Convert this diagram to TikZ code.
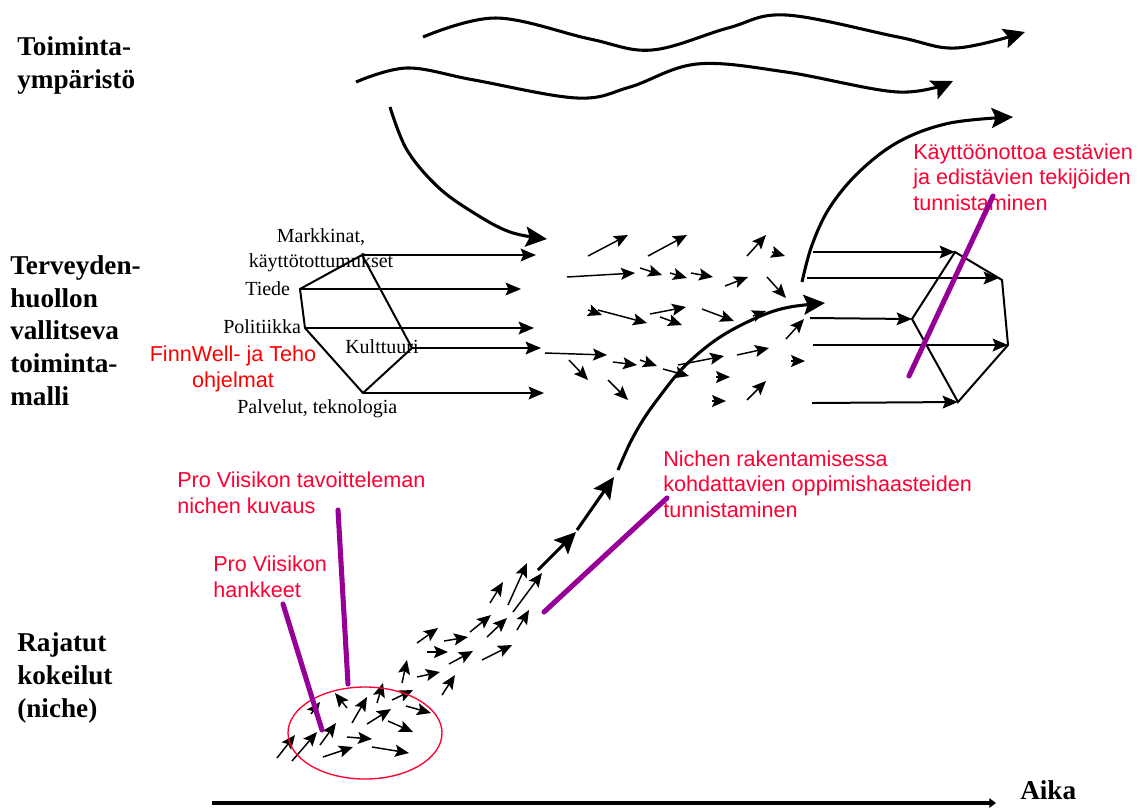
\documentclass[tikz,border=0pt]{standalone}
\usepackage{fontspec}
\setmainfont{Liberation Serif}
\newfontfamily\arialfont{Liberation Sans}
\usetikzlibrary{arrows.meta}
\definecolor{notered}{RGB}{255,0,51}
\definecolor{finnred}{RGB}{255,0,0}
\definecolor{purpleline}{RGB}{150,0,150}
\begin{document}
\begin{tikzpicture}[x=0.75pt,y=-0.75pt,
  heading/.style={font=\fontsize{20.4}{24.4}\selectfont\bfseries, align=left, anchor=base west, inner sep=0pt},
  lbl/.style={font=\fontsize{15}{18.75}\selectfont, inner sep=0pt, anchor=base west},
  rednote/.style={font=\arialfont\fontsize{16.2}{19.1}\selectfont, text=notered, align=left, anchor=base west, inner sep=0pt},
  bigarrow/.style={line width=2.3pt, -{Stealth[length=16pt,width=15pt,inset=3pt]}},
  hexarrow/.style={line width=1.5pt, -{Stealth[length=11.5pt,width=9.5pt,inset=2pt]}},
  smallarrow/.style={line width=1.1pt, -{Stealth[length=10.5pt,width=9pt,inset=2pt]}},
  hexedge/.style={line width=1.5pt, line join=miter},
  pointer/.style={purpleline, line width=3.8pt, line cap=round},
  axis/.style={line width=3.6pt, -{Triangle[length=5pt,width=7pt]}},
]
\useasboundingbox (0,0) rectangle (1141,808);

% ---------- headings (anchored at the baseline of the last line) ----------
\node[heading] (h1) at (17,88) {Toiminta-\\ympäristö};
\node[heading] (h2) at (10,405) {Terveyden-\\huollon\\vallitseva\\toiminta-\\malli};
\node[heading] (h3) at (17,717) {Rajatut\\kokeilut\\(niche)};
\node[heading] (aika) at (1020,799) {Aika};

% ---------- top waves ----------
\draw[bigarrow] plot[smooth, tension=0.6] coordinates {(423,37) (496,18) (590,39) (652,50) (728,28) (786,15) (898,37) (956,48) (1025,32)};
\draw[bigarrow] plot[smooth, tension=0.6] coordinates {(356,82) (407,68) (474,80) (577,98) (630,87) (697,64) (786,72) (898,92) (953,81)};
\draw[bigarrow] plot[smooth, tension=0.6] coordinates {(390,107) (407,150) (438,187) (474,213) (510,232) (547,239)};

% ---------- left pentagon ----------
\coordinate (Ltop) at (362,255);
\coordinate (Ltie) at (300,289);
\coordinate (Lpol) at (305,328);
\coordinate (Lkul) at (412,348);
\coordinate (Lpal) at (363,393);
\draw[hexedge] (Ltie) -- (Ltop) -- (Lkul) -- (Lpal) -- (Lpol) -- cycle;
\coordinate (Etop) at (536,255);
\coordinate (Etie) at (521,289);
\coordinate (Epol) at (534,328);
\coordinate (Ekul) at (541,348);
\coordinate (Epal) at (544,393);
\draw[hexarrow] (Ltop) -- (Etop);
\draw[hexarrow] (Ltie) -- (Etie);
\draw[hexarrow] (Lpol) -- (Epol);
\draw[hexarrow] (Lkul) -- (Ekul);
\draw[hexarrow] (Lpal) -- (Epal);

\node[lbl, align=center, anchor=base] (mark) at (321,267) {Markkinat,\\käyttötottumukset};
\node[lbl] (tiede) at (245,295) {Tiede};
\node[lbl] (poli) at (223,333) {Politiikka};
\node[lbl] (kult) at (345,353) {Kulttuuri};
\node[lbl] (palv) at (237,413) {Palvelut, teknologia};

% ---------- right pentagon ----------
\coordinate (Rtop) at (955,252);
\coordinate (Rrt) at (1002,280);
\coordinate (Rri) at (1008,345);
\coordinate (Rbo) at (958,402);
\coordinate (Rle) at (912,319);
\draw[hexedge] (Rtop) -- (Rrt) -- (Rri) -- (Rbo) -- (Rle) -- cycle;
\coordinate (S1) at (813,252);
\coordinate (S2) at (807,278);
\coordinate (S3) at (810,318);
\coordinate (S4) at (813,345);
\coordinate (S5) at (812,403);
\coordinate (Rrt2) at (999,278);
\draw[hexarrow] (S1) -- (Rtop);
\draw[hexarrow] (S2) -- (Rrt2);
\draw[hexarrow] (S3) -- (Rle);
\draw[hexarrow] (S4) -- (Rri);
\draw[hexarrow] (S5) -- (Rbo);

% ---------- big arc up ----------
\draw[bigarrow] plot[smooth, tension=0.6] coordinates {(802,282) (812,245) (830,207) (860,171) (900,141) (950,123) (1013,117)};

% ---------- niche trajectory ----------
\draw[bigarrow] (538,570) -- (576,532);
\draw[bigarrow] (577,530) -- (614,477);
\draw[bigarrow] plot[smooth, tension=0.6] coordinates {(618,470) (630,443) (643,420) (657,400) (680,371) (705,348) (730,331) (763,315) (790,307) (825,303)};

% ---------- scattered arrows (middle) ----------
\foreach \xa/\ya/\xb/\yb in {
 588/256/628/235, 648/256/687/235, 567/277/635/273, 640/268/662/275,
 670/273/687/278, 691/273/713/277, 725/286/748/277, 747/256/766/235,
 772/252/785/256, 767/277/786/298, 588/310/602/315, 598/310/647/323,
 650/314/686/307, 660/317/682/325, 702/309/734/321, 753/316/766/311,
 786/339/804/319, 545/353/607/355, 569/360/588/380, 613/362/637/365,
 640/360/657/366, 663/369/689/376, 678/365/724/356, 737/355/769/348,
 608/380/628/400, 716/377/730/377, 712/401/726/401, 747/400/766/381,
 791/361/805/361}
 {\draw[smallarrow] (\xa,\ya) -- (\xb,\yb);}

% ---------- niche arrows ----------
\foreach \xa/\ya/\xb/\yb in {
 277/758/295/735, 292/761/317/732, 320/745/336/723, 323/757/353/747,
 347/737/372/739, 372/747/409/753, 388/721/413/732, 367/724/391/709,
 352/723/367/697, 347/708/335/693, 311/714/320/702, 377/703/383/683,
 392/700/413/690, 406/706/431/713, 402/683/407/660, 417/677/440/672,
 442/695/455/675, 417/643/438/628, 427/652/448/652, 444/641/468/637,
 449/664/473/651, 482/660/512/645, 470/632/491/615, 487/637/507/618,
 517/630/529/610, 490/603/503/582, 508/605/527/563, 513/612/542/573}
 {\draw[smallarrow] (\xa,\ya) -- (\xb,\yb);}

% ---------- niche ellipse ----------
\draw[notered, line width=1pt] (365,733) ellipse [x radius=77, y radius=46];

% ---------- time axis ----------
\coordinate (T0) at (212,803);
\coordinate (T1) at (996,803);
\draw[axis] (T0) -- (T1);

% ---------- red notes (anchored at the baseline of the last line) ----------
\node[rednote, text=finnred, align=center, anchor=base] (finn) at (233,387) {FinnWell- ja Teho\\ohjelmat};
\node[rednote] (kuvaus) at (177,513) {Pro Viisikon tavoitteleman\\nichen kuvaus};
\node[rednote] (hank) at (213,597) {Pro Viisikon\\hankkeet};
\node[rednote] (oppi) at (663,517) {Nichen rakentamisessa\\kohdattavien oppimishaasteiden\\tunnistaminen};
\node[rednote] (kayt) at (913,210) {Käyttöönottoa estävien\\ja edistävien tekijöiden\\tunnistaminen};

% ---------- purple pointers ----------
\coordinate (P1a) at (283,604); \coordinate (P1b) at (322,730);
\coordinate (P2a) at (338,510); \coordinate (P2b) at (348,684);
\coordinate (P3a) at (667,498); \coordinate (P3b) at (544,612);
\coordinate (P4a) at (993,196); \coordinate (P4b) at (909,376);
\draw[pointer] (P1a) -- (P1b);
\draw[pointer] (P2a) -- (P2b);
\draw[pointer] (P3a) -- (P3b);
\draw[pointer] (P4a) -- (P4b);
\end{tikzpicture}
\end{document}
